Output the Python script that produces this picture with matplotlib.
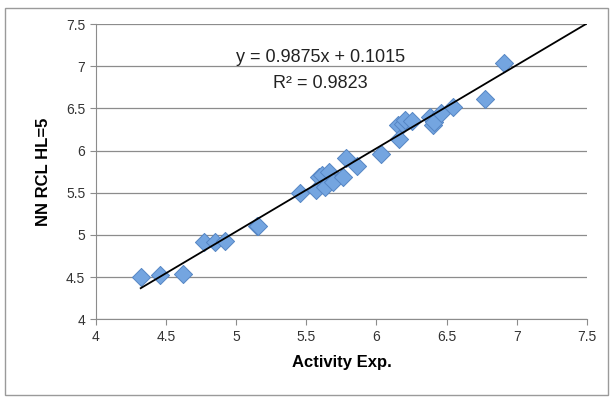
import matplotlib
matplotlib.use('Agg')
import matplotlib.pyplot as plt
from matplotlib.patches import Rectangle
import numpy as np

plt.rcParams['font.family'] = ['Liberation Sans', 'DejaVu Sans']

# experimental activity vs. NN prediction
activity_exp = [4.32, 4.455, 4.62, 4.77, 4.85, 4.92, 5.15, 5.155, 5.455,
                5.57, 5.59, 5.61, 5.63, 5.665, 5.69, 5.76, 5.78, 5.86,
                6.03, 6.15, 6.16, 6.19, 6.20, 6.25, 6.38, 6.40, 6.41,
                6.46, 6.545, 6.77, 6.91]
nn_pred = [4.50, 4.52, 4.54, 4.91, 4.91, 4.93, 5.11, 5.10, 5.50,
           5.53, 5.69, 5.71, 5.57, 5.75, 5.63, 5.69, 5.91, 5.82,
           5.96, 6.30, 6.14, 6.31, 6.36, 6.35, 6.40, 6.30, 6.34,
           6.44, 6.52, 6.61, 7.04]

slope = 0.9875
intercept = 0.1015
r2 = 0.9823
ticks = [4, 4.5, 5, 5.5, 6, 6.5, 7, 7.5]

fig = plt.figure(figsize=(6.14, 4.01), dpi=100)
fig.patches.append(Rectangle((0.008, 0.015), 0.982, 0.965, transform=fig.transFigure,
                             fill=False, edgecolor='#9a9a9a', linewidth=1.0))
ax = fig.add_axes([0.156, 0.204, 0.800, 0.736])

ax.scatter(activity_exp, nn_pred, marker='D', s=85, color='#74a5e0',
           edgecolors='#5585c4', linewidths=0.7, zorder=3)

# linear trendline
xl = np.array([min(activity_exp), 7.5])
ax.plot(xl, slope * xl + intercept, color='black', linewidth=1.3, zorder=4)

ax.set_xlim(4, 7.5)
ax.set_ylim(4, 7.5)
ax.set_xticks(ticks)
ax.set_yticks(ticks)
ax.set_xticklabels(['4', '4.5', '5', '5.5', '6', '6.5', '7', '7.5'])
ax.set_yticklabels(['4', '4.5', '5', '5.5', '6', '6.5', '7', '7.5'])
ax.grid(axis='y', color='#8c8c8c', linewidth=0.9)
ax.set_axisbelow(True)
for s in ['top', 'right']:
    ax.spines[s].set_visible(False)
ax.spines['left'].set_color('#8c8c8c')
ax.spines['bottom'].set_color('#8c8c8c')
ax.tick_params(direction='out', length=4, color='#8c8c8c', labelsize=10,
               labelcolor='#333333')

ax.set_xlabel('Activity Exp.', fontsize=12, fontweight='bold', labelpad=8)
ax.set_ylabel('NN RCL HL=5', fontsize=12, fontweight='bold', labelpad=11)

ax.text(5.6, 7.1, 'y = %.4fx + %.4f' % (slope, intercept), fontsize=13,
        ha='center', va='center', color='#222222')
ax.text(5.6, 6.79, 'R\u00b2 = %.4f' % r2, fontsize=13, ha='center', va='center',
        color='#222222')

fig.savefig('out.png', dpi=100)
